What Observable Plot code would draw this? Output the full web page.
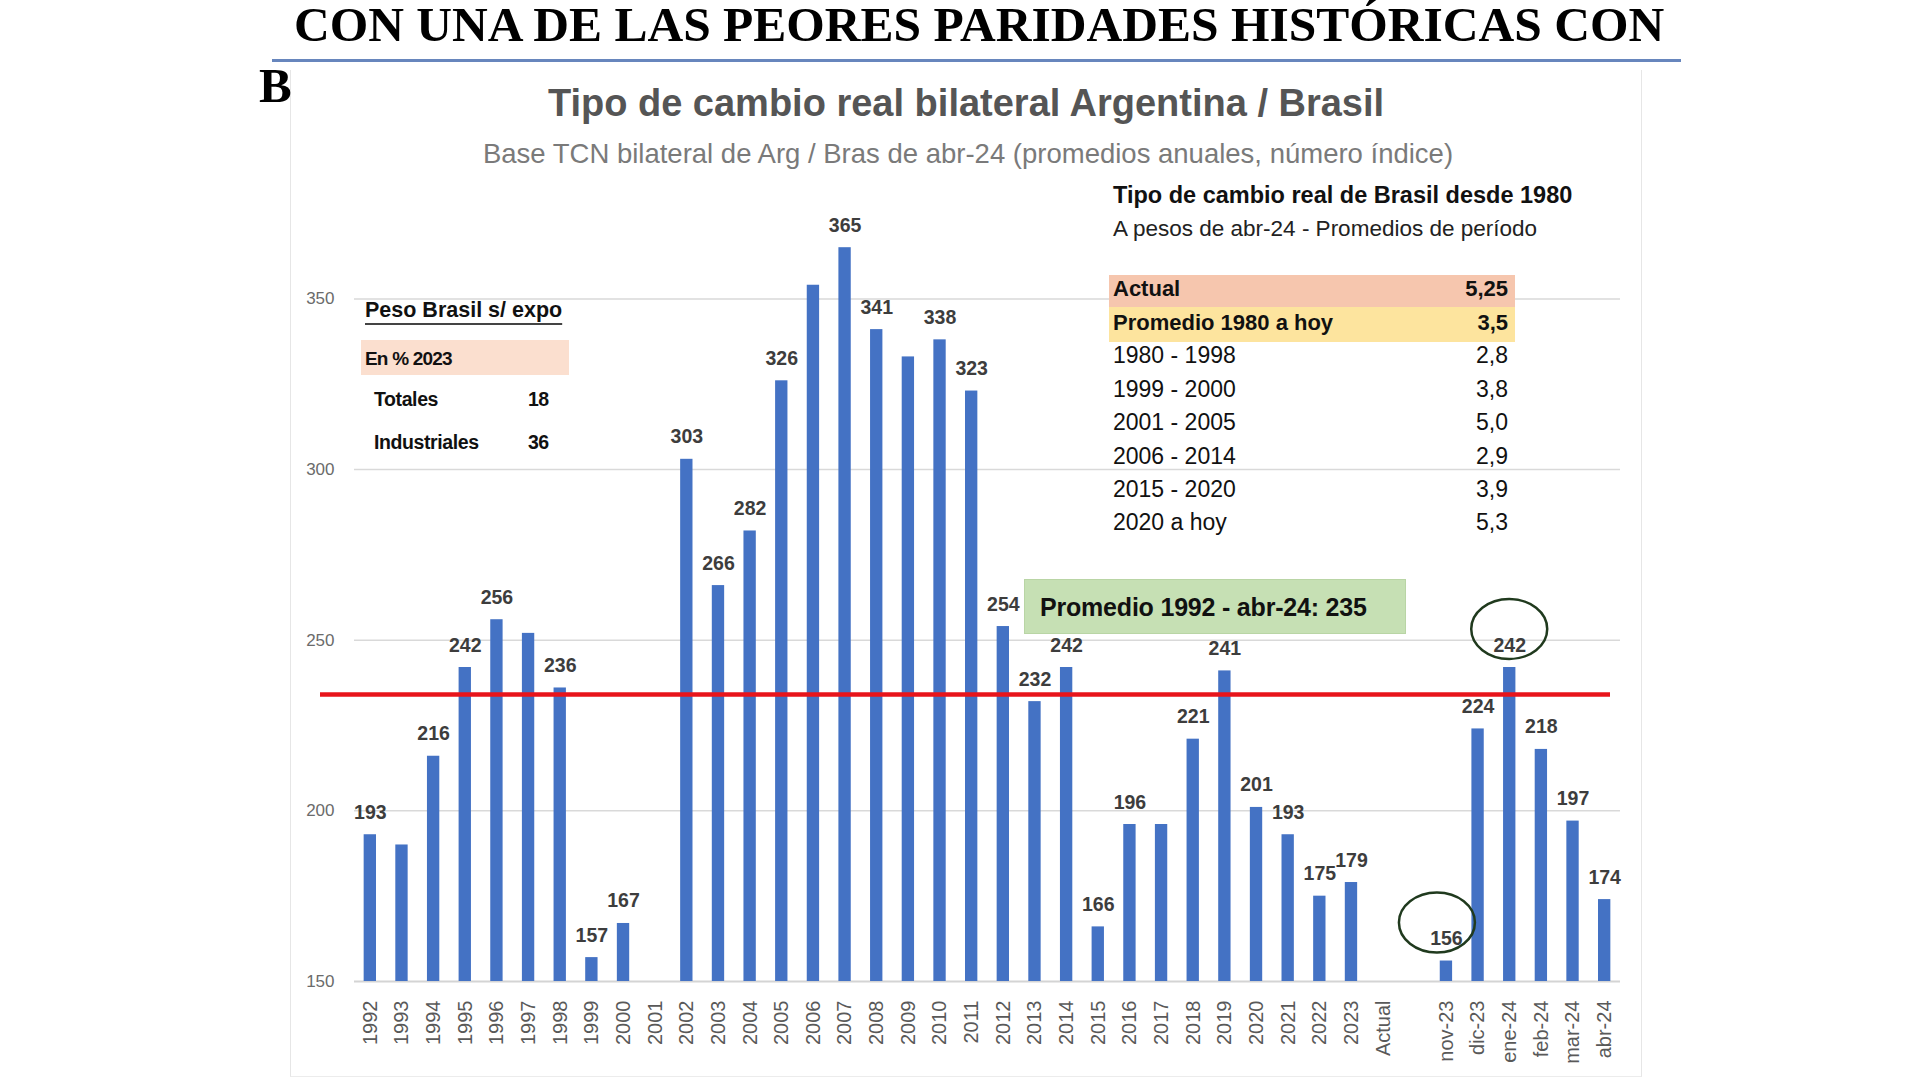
<!DOCTYPE html>
<html>
<head>
<meta charset="utf-8">
<script src="https://cdn.jsdelivr.net/npm/d3@7"></script>
<script src="https://cdn.jsdelivr.net/npm/@observablehq/plot@0.6"></script>
<style>
  html, body { margin: 0; padding: 0; background: #fff; }
  body { width: 1920px; height: 1080px; position: relative; overflow: hidden; }
  #chart { position: absolute; left: 0; top: 176px; }
</style>
</head>
<body>
<div id="chart"></div>
<script>
// ---------- data ----------
const categories = ["1992","1993","1994","1995","1996","1997","1998","1999","2000","2001",
  "2002","2003","2004","2005","2006","2007","2008","2009","2010","2011",
  "2012","2013","2014","2015","2016","2017","2018","2019","2020","2021",
  "2022","2023","Actual","","nov-23","dic-23","ene-24","feb-24","mar-24","abr-24"];
const values = [193,190,216,242,256,252,236,157,167,150,
  303,266,282,326,354,365,341,333,338,323,
  254,232,242,166,196,196,221,241,201,193,
  175,179,null,null,156,224,242,218,197,174];
const labels = ["193","","216","242","256","","236","157","167","",
  "303","266","282","326","","365","341","","338","323",
  "254","232","242","166","196","","221","241","201","193",
  "175","179","","","156","224","242","218","197","174"];
const yTicks = [150, 200, 250, 300, 350];
const gridTicks = [200, 250, 300, 350];
const average = 235;
const highlighted = ["nov-23", "ene-24"];

const headline = "CON UNA DE LAS PEORES PARIDADES HISTÓRICAS CON";
const headLetter = "B";
const title = "Tipo de cambio real bilateral Argentina / Brasil";
const subtitle = "Base TCN bilateral de Arg / Bras de abr-24 (promedios anuales, número índice)";

const tableTitle = "Tipo de cambio real de Brasil desde 1980";
const tableSubtitle = "A pesos de abr-24 - Promedios de período";
const tableRows = ["Actual","Promedio 1980 a hoy","1980 - 1998","1999 - 2000","2001 - 2005","2006 - 2014","2015 - 2020","2020 a hoy"];
const tableValues = ["5,25","3,5","2,8","3,8","5,0","2,9","3,9","5,3"];

const pesoTitle = "Peso Brasil s/ expo";
const pesoSub = "En % 2023";
const pesoRows = ["Totales","Industriales"];
const pesoValues = ["18","36"];

const avgLabel = "Promedio 1992 - abr-24: " + average;

// ---------- chart ----------
const data = categories.map((c, i) => ({cat: c, value: values[i], label: labels[i]}));
const bars = data.filter(d => d.value != null);
const labeled = data.filter(d => d.value != null && d.label !== "");

const SANS = "'Liberation Sans', Arial, Helvetica, sans-serif";
const SERIF = "'Liberation Serif', 'Times New Roman', serif";

const chart = Plot.plot({
  width: 1920,
  height: 904,
  marginLeft: 354,
  marginRight: 300,
  marginTop: 20,
  marginBottom: 99,
  style: {background: "transparent", fontFamily: SANS},
  x: {domain: categories, paddingInner: 0.61, paddingOuter: 0.305, round: false, label: null},
  y: {domain: [150, 380], label: null},
  marks: [
    Plot.ruleY(gridTicks, {stroke: "#d9d9d9", strokeWidth: 1.5}),
    Plot.ruleY([150], {stroke: "#d4d4d4", strokeWidth: 2}),
    Plot.barY(bars, {x: "cat", y1: 150, y2: "value", fill: "#4472c4"}),
    Plot.ruleY([average], {stroke: "#e8141b", strokeWidth: 4.5, insetLeft: -34, insetRight: 10, dy: 3}),
    Plot.text(labeled, {x: "cat", y: "value", text: "label", dy: -16, lineAnchor: "bottom",
      fontSize: 19.5, fontWeight: "bold", fill: "#3d3d3d"}),
    Plot.axisY({ticks: yTicks, tickSize: 0, tickPadding: 20, fontSize: 17, color: "#6b6b6b", label: null}),
    Plot.axisX({tickRotate: -90, tickSize: 0, tickPadding: 19, fontSize: 20, color: "#595959", label: null})
  ]
});
document.getElementById("chart").appendChild(chart);

// highlight ellipses around selected labels (positioned with Plot's scales)
const sx = chart.scale("x"), sy = chart.scale("y");
const svg = d3.select(chart);
highlighted.forEach((c, k) => {
  const d = data.find(e => e.cat === c);
  const cx = sx.apply(c) + sx.bandwidth / 2 + (k === 0 ? -9 : 0);
  const cy = sy.apply(d.value) - 38;
  svg.append("ellipse")
    .attr("cx", cx).attr("cy", cy)
    .attr("rx", 38).attr("ry", 30)
    .attr("fill", "none").attr("stroke", "#203a1e").attr("stroke-width", 2.5);
});

// ---------- text & annotation helpers ----------
function put(txt, o) {
  const d = document.createElement("div");
  d.textContent = txt;
  const f = o.size;
  const asc = o.serif ? 0.8375 : 0.8465;
  Object.assign(d.style, {
    position: "absolute",
    top: (o.base - asc * f) + "px",
    fontSize: f + "px",
    lineHeight: "1",
    fontFamily: o.serif ? SERIF : SANS,
    fontWeight: o.weight || 400,
    color: o.color || "#111",
    whiteSpace: "nowrap",
    letterSpacing: (o.ls || 0) + "px"
  });
  if (o.anchor === "middle") { d.style.left = o.x + "px"; d.style.transform = "translateX(-50%)"; }
  else if (o.anchor === "end") { d.style.right = (1920 - o.x) + "px"; }
  else d.style.left = o.x + "px";
  if (o.underline) {
    d.style.textDecoration = "underline";
    d.style.textDecorationThickness = "2px";
    d.style.textUnderlineOffset = "6px";
    d.style.textDecorationColor = "#444";
  }
  document.body.appendChild(d);
  return d;
}
function box(x, y, w, h, css) {
  const d = document.createElement("div");
  Object.assign(d.style, {position: "absolute", left: x + "px", top: y + "px", width: w + "px", height: h + "px", boxSizing: "border-box"}, css);
  document.body.appendChild(d);
  return d;
}

// panel borders
box(290, 70, 1352, 1007, {borderLeft: "1.5px solid #e6e6e6", borderRight: "1.5px solid #e6e6e6", borderBottom: "1.5px solid #ececec"});

// newspaper headline
put(headline, {x: 294, base: 41.6, size: 49.5, weight: 700, serif: true, color: "#000"});
box(272, 58.5, 1409, 3, {background: "#6786bd"});
put(headLetter, {x: 259, base: 101.7, size: 49, weight: 700, serif: true, color: "#000"});

// chart title
put(title, {x: 966, base: 116, size: 38, weight: 700, color: "#555555", anchor: "middle"});
put(subtitle, {x: 968, base: 163, size: 27.5, weight: 400, color: "#7a7a7a", anchor: "middle"});

// right table
put(tableTitle, {x: 1113, base: 204, size: 23.5, weight: 700, color: "#111"});
put(tableSubtitle, {x: 1113, base: 237, size: 22.5, weight: 400, color: "#222"});
box(1109, 275, 406, 32, {background: "#f6c6ae"});
box(1109, 307, 406, 35, {background: "#fde49e"});
tableRows.forEach((r, i) => {
  const base = 297 + i * 33.4;
  const bold = i < 2;
  put(r, {x: 1113, base, size: bold ? 22 : 23, weight: bold ? 700 : 400, color: "#111"});
  put(tableValues[i], {x: 1508, base, size: bold ? 22 : 23, weight: bold ? 700 : 400, color: "#111", anchor: "end"});
});

// left table
put(pesoTitle, {x: 365, base: 318.3, size: 21.5, weight: 700, color: "#111", underline: true});
box(361, 340, 208, 35, {background: "#fbdfcf"});
put(pesoSub, {x: 365, base: 365, size: 19, weight: 700, color: "#111", ls: -0.8});
pesoRows.forEach((r, i) => {
  const base = 406.7 + i * 43.3;
  put(r, {x: 374, base, size: 19.5, weight: 700, color: "#111", ls: -0.4});
  put(pesoValues[i], {x: 528, base, size: 19.5, weight: 700, color: "#111", ls: -0.6});
});

// average label box
box(1024, 579, 382, 55, {background: "#c6e0b4", border: "1px solid #b9d5a5"});
put(avgLabel, {x: 1040, base: 616, size: 25, weight: 700, color: "#111", ls: -0.2});
</script>
</body>
</html>
